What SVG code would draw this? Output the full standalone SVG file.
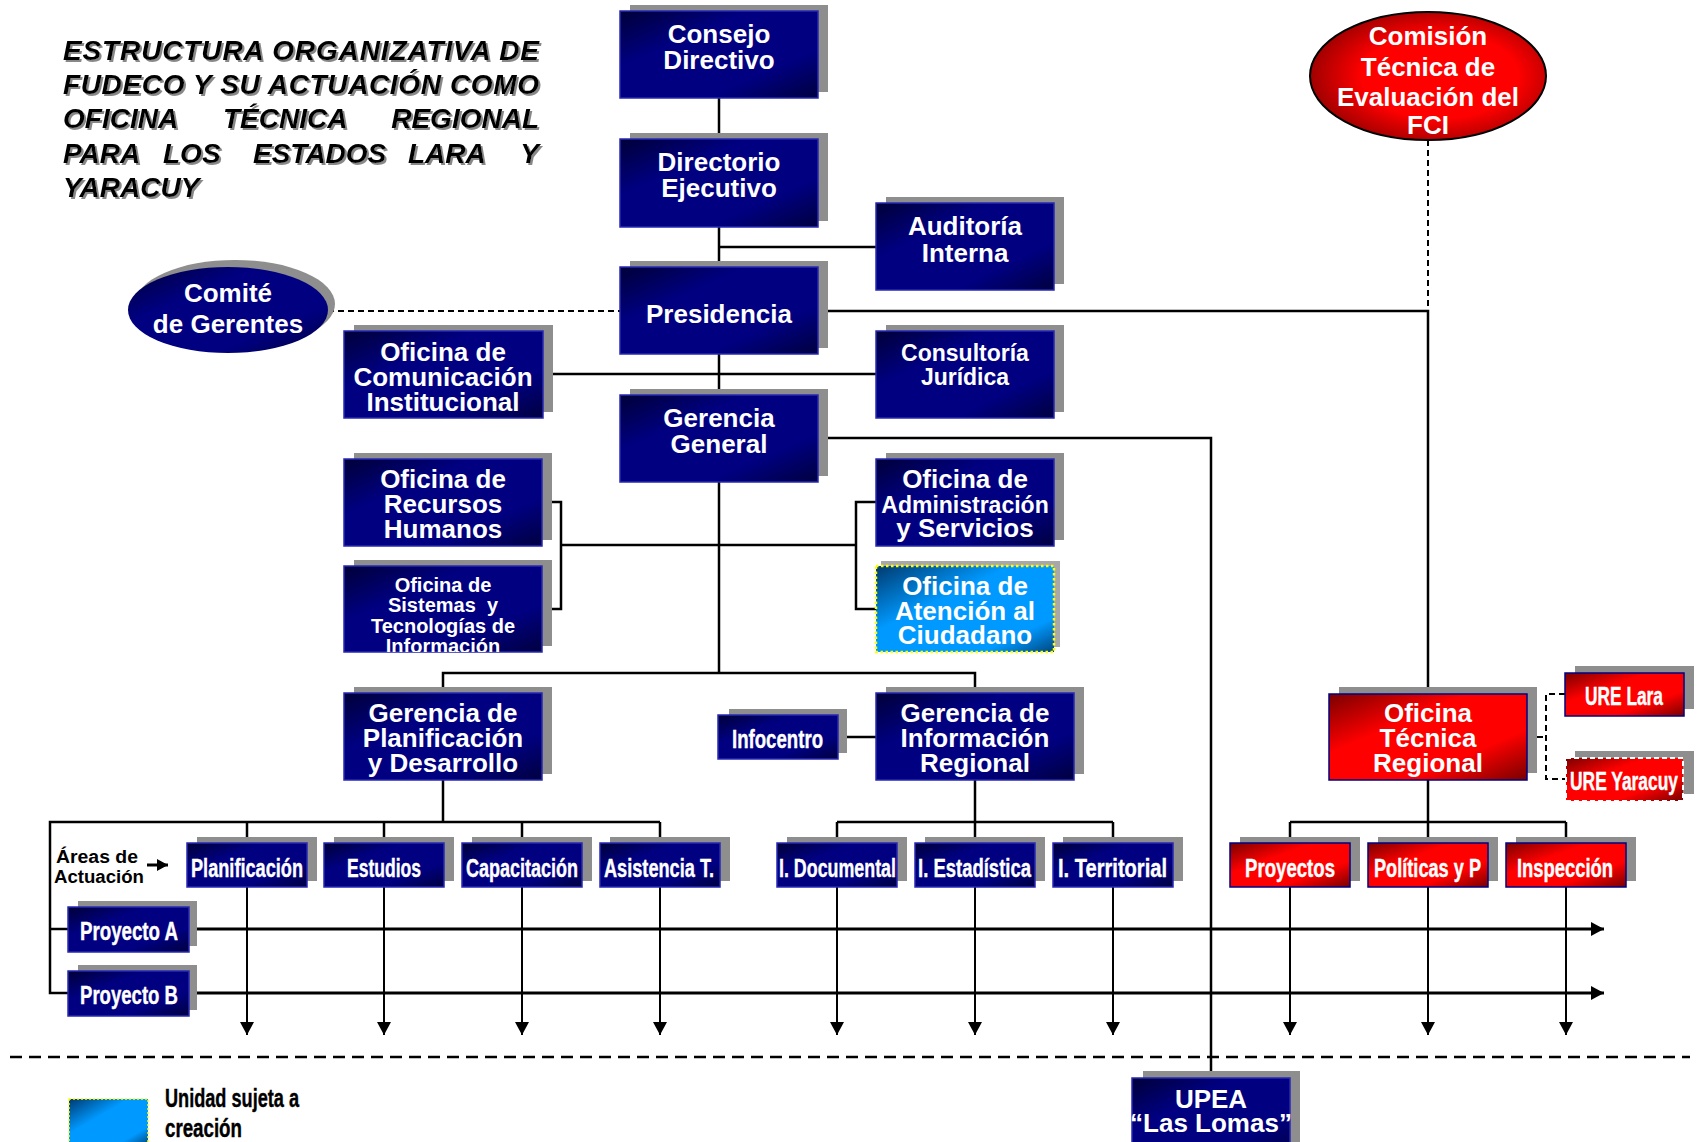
<svg xmlns="http://www.w3.org/2000/svg" width="1704" height="1142" viewBox="0 0 1704 1142">
<defs>
<linearGradient id="gNavy" x1="0" y1="0" x2="1" y2="1">
<stop offset="0" stop-color="#000038"/><stop offset="0.32" stop-color="#000080"/><stop offset="0.72" stop-color="#000080"/><stop offset="1" stop-color="#000040"/>
</linearGradient>
<linearGradient id="gRed" x1="0" y1="0" x2="1" y2="1">
<stop offset="0" stop-color="#7a0000"/><stop offset="0.35" stop-color="#ff0000"/><stop offset="0.7" stop-color="#ff0000"/><stop offset="1" stop-color="#780000"/>
</linearGradient>
<linearGradient id="gBlue" x1="0" y1="0" x2="1" y2="1">
<stop offset="0" stop-color="#003a6e"/><stop offset="0.38" stop-color="#0099ff"/><stop offset="0.8" stop-color="#0099ff"/><stop offset="1" stop-color="#00467f"/>
</linearGradient>
<radialGradient id="gRedE" cx="0.55" cy="0.5" r="0.6">
<stop offset="0" stop-color="#ff0000"/><stop offset="0.55" stop-color="#ff0000"/><stop offset="1" stop-color="#8a0000"/>
</radialGradient>
<filter id="tshadow" x="-5%" y="-20%" width="110%" height="140%">
<feDropShadow dx="2" dy="2" stdDeviation="0.6" flood-color="#888888" flood-opacity="1"/>
</filter>
<clipPath id="clipSis"><rect x="344" y="566" width="198" height="86"/></clipPath>
<marker id="arr" markerUnits="userSpaceOnUse" markerWidth="14" markerHeight="14" refX="13" refY="7" orient="auto" viewBox="0 0 14 14">
<path d="M0,0 L13,7 L0,14 Z" fill="#000"/>
</marker>
<marker id="arrSmall" markerUnits="userSpaceOnUse" markerWidth="12" markerHeight="12" refX="11" refY="6" orient="auto" viewBox="0 0 12 12">
<path d="M0,0 L11,6 L0,12 Z" fill="#000"/>
</marker>
</defs>
<style>
.sh{fill:#8e8e8e}
.nv{fill:url(#gNavy);stroke:#2828b4;stroke-width:1.5}
.rd{fill:url(#gRed);stroke:#000080;stroke-width:1.5}
.t{font-family:"Liberation Sans",Arial,sans-serif;font-weight:bold;fill:#fff;text-anchor:middle}
.t26{font-size:26px}
.t23{font-size:23px}
.t21{font-size:20px}
.c{font-family:"Liberation Sans",Arial,sans-serif;font-weight:bold;fill:#fff;font-size:25px;text-anchor:start;stroke:#fff;stroke-width:0.4}
.lg{font-family:"Liberation Sans",Arial,sans-serif;font-weight:bold;fill:#000;font-size:25px;stroke:#000;stroke-width:0.4}
.ln{stroke:#000;stroke-width:2.5;fill:none}
.ar{stroke:#000;stroke-width:2;fill:none}
.thick{stroke:#000;stroke-width:3;fill:none}
.dash{stroke:#000;stroke-width:2;fill:none;stroke-dasharray:6 4}
</style>
<rect x="0" y="0" width="1704" height="1142" fill="#fff"/>

<g id="title" font-family="'Liberation Sans',Arial,sans-serif" font-weight="bold" font-style="italic" font-size="28" fill="#000" filter="url(#tshadow)">
<text x="63" y="60" textLength="476" lengthAdjust="spacing">ESTRUCTURA ORGANIZATIVA DE</text>
<text x="63" y="94" textLength="476" lengthAdjust="spacing">FUDECO Y SU ACTUACIÓN COMO</text>
<text x="63" y="128">OFICINA</text>
<text x="223" y="128">TÉCNICA</text>
<text x="539" y="128" text-anchor="end">REGIONAL</text>
<text x="63" y="163">PARA</text>
<text x="163" y="163">LOS</text>
<text x="253" y="163">ESTADOS</text>
<text x="408" y="163">LARA</text>
<text x="539" y="163" text-anchor="end">Y</text>
<text x="63" y="197">YARACUY</text>
</g>

<g id="connectors">
<line class="ln" x1="719" y1="98" x2="719" y2="139"/>
<line class="ln" x1="719" y1="227" x2="719" y2="267"/>
<line class="ln" x1="719" y1="354" x2="719" y2="395"/>
<line class="ln" x1="719" y1="482" x2="719" y2="673"/>
<line class="ln" x1="719" y1="247" x2="876" y2="247"/>
<line class="ln" x1="543" y1="374" x2="876" y2="374"/>
<line class="dash" x1="328" y1="311" x2="620" y2="311" stroke-width="2.2"/>
<polyline class="ln" points="818,311 1428,311 1428,694"/>
<line class="dash" x1="1428" y1="140" x2="1428" y2="311"/>
<polyline class="ln" points="818,438 1211,438 1211,1078"/>
<polyline class="ln" points="542,502 561,502 561,609 542,609"/>
<line class="ln" x1="561" y1="545" x2="856" y2="545"/>
<polyline class="ln" points="876,502 856,502 856,609 876,609"/>
<polyline class="ln" points="443,693 443,673 975,673 975,693"/>
<line class="ln" x1="838" y1="737" x2="876" y2="737"/>
<line class="ln" x1="443" y1="780" x2="443" y2="822"/>
<polyline class="ln" points="68,993 50,993 50,822 660,822"/>
<line class="ln" x1="50" y1="929" x2="68" y2="929"/>
<line class="ln" x1="247" y1="822" x2="247" y2="843"/>
<line class="ln" x1="384" y1="822" x2="384" y2="843"/>
<line class="ln" x1="522" y1="822" x2="522" y2="843"/>
<line class="ln" x1="660" y1="822" x2="660" y2="843"/>
<line class="ln" x1="975" y1="780" x2="975" y2="843"/>
<line class="ln" x1="837" y1="822" x2="1113" y2="822"/>
<line class="ln" x1="837" y1="822" x2="837" y2="843"/>
<line class="ln" x1="1113" y1="822" x2="1113" y2="843"/>
<line class="ln" x1="1428" y1="780" x2="1428" y2="843"/>
<line class="ln" x1="1290" y1="822" x2="1566" y2="822"/>
<line class="ln" x1="1290" y1="822" x2="1290" y2="843"/>
<line class="ln" x1="1566" y1="822" x2="1566" y2="843"/>
<polyline class="dash" points="1527,737 1546,737"/>
<polyline class="dash" points="1565,694 1546,694 1546,779 1566,779"/>
<line class="thick" x1="189" y1="929" x2="1604" y2="929" marker-end="url(#arr)"/>
<line class="thick" x1="189" y1="993" x2="1604" y2="993" marker-end="url(#arr)"/>
<line class="ar" x1="247" y1="887" x2="247" y2="1035" marker-end="url(#arr)"/>
<line class="ar" x1="384" y1="887" x2="384" y2="1035" marker-end="url(#arr)"/>
<line class="ar" x1="522" y1="887" x2="522" y2="1035" marker-end="url(#arr)"/>
<line class="ar" x1="660" y1="887" x2="660" y2="1035" marker-end="url(#arr)"/>
<line class="ar" x1="837" y1="887" x2="837" y2="1035" marker-end="url(#arr)"/>
<line class="ar" x1="975" y1="887" x2="975" y2="1035" marker-end="url(#arr)"/>
<line class="ar" x1="1113" y1="887" x2="1113" y2="1035" marker-end="url(#arr)"/>
<line class="ar" x1="1290" y1="887" x2="1290" y2="1035" marker-end="url(#arr)"/>
<line class="ar" x1="1428" y1="887" x2="1428" y2="1035" marker-end="url(#arr)"/>
<line class="ar" x1="1566" y1="887" x2="1566" y2="1035" marker-end="url(#arr)"/>
<line x1="147" y1="865" x2="168" y2="865" stroke="#000" stroke-width="3" marker-end="url(#arrSmall)"/>
<line x1="10" y1="1057" x2="1690" y2="1057" stroke="#000" stroke-width="2.5" stroke-dasharray="12 7"/>
</g>

<g id="n-consejo"><rect class="sh" x="630" y="5" width="198" height="87"/><rect class="nv" x="620" y="11" width="198" height="87"/>
<text class="t t26"><tspan x="719" y="43">Consejo</tspan><tspan x="719" y="69">Directivo</tspan></text></g>

<g id="n-directorio"><rect class="sh" x="630" y="133" width="198" height="88"/><rect class="nv" x="620" y="139" width="198" height="88"/>
<text class="t t26"><tspan x="719" y="171">Directorio</tspan><tspan x="719" y="197">Ejecutivo</tspan></text></g>

<g id="n-auditoria"><rect class="sh" x="886" y="197" width="178" height="87"/><rect class="nv" x="876" y="203" width="178" height="87"/>
<text class="t t26"><tspan x="965" y="235">Auditoría</tspan><tspan x="965" y="262">Interna</tspan></text></g>

<g id="n-comite"><ellipse cx="235" cy="304" rx="100" ry="44" class="sh"/><ellipse cx="228" cy="310" rx="100" ry="43" fill="url(#gNavy)"/>
<text class="t t26"><tspan x="228" y="302">Comité</tspan><tspan x="228" y="333">de Gerentes</tspan></text></g>

<g id="n-presidencia"><rect class="sh" x="630" y="261" width="198" height="87"/><rect class="nv" x="620" y="267" width="198" height="87"/>
<text class="t t26" x="719" y="323">Presidencia</text></g>

<g id="n-comision"><ellipse cx="1428" cy="76" rx="118" ry="64" fill="url(#gRedE)" stroke="#000" stroke-width="2"/>
<text class="t t26"><tspan x="1428" y="45">Comisión</tspan><tspan x="1428" y="76">Técnica de</tspan><tspan x="1428" y="106">Evaluación del</tspan><tspan x="1428" y="134">FCI</tspan></text></g>

<g id="n-comunicacion"><rect class="sh" x="354" y="325" width="199" height="87"/><rect class="nv" x="344" y="331" width="199" height="87"/>
<text class="t t26"><tspan x="443" y="361">Oficina de</tspan><tspan x="443" y="386">Comunicación</tspan><tspan x="443" y="411">Institucional</tspan></text></g>

<g id="n-consultoria"><rect class="sh" x="886" y="325" width="178" height="87"/><rect class="nv" x="876" y="331" width="178" height="87"/>
<text class="t t23"><tspan x="965" y="361">Consultoría</tspan><tspan x="965" y="385">Jurídica</tspan></text></g>

<g id="n-gerencia"><rect class="sh" x="630" y="389" width="198" height="87"/><rect class="nv" x="620" y="395" width="198" height="87"/>
<text class="t t26"><tspan x="719" y="427">Gerencia</tspan><tspan x="719" y="453">General</tspan></text></g>

<g id="n-rrhh"><rect class="sh" x="354" y="453" width="198" height="87"/><rect class="nv" x="344" y="459" width="198" height="87"/>
<text class="t t26"><tspan x="443" y="488">Oficina de</tspan><tspan x="443" y="513">Recursos</tspan><tspan x="443" y="538">Humanos</tspan></text></g>

<g id="n-sistemas"><rect class="sh" x="354" y="560" width="198" height="86"/><rect class="nv" x="344" y="566" width="198" height="86"/>
<text class="t t21" clip-path="url(#clipSis)" xml:space="preserve"><tspan x="443" y="592">Oficina de</tspan><tspan x="443" y="612">Sistemas  y</tspan><tspan x="443" y="633">Tecnologías de</tspan><tspan x="443" y="653">Información</tspan></text></g>

<g id="n-administracion"><rect class="sh" x="886" y="453" width="178" height="87"/><rect class="nv" x="876" y="459" width="178" height="87"/>
<text class="t t26"><tspan x="965" y="488">Oficina de</tspan><tspan x="965" y="513" font-size="23">Administración</tspan><tspan x="965" y="537">y Servicios</tspan></text></g>

<g id="n-atencion"><rect x="881" y="561" width="179" height="86" fill="#a8a8a8"/><rect x="876" y="566" width="178" height="86" fill="url(#gBlue)" stroke="#ffff00" stroke-width="2.5" stroke-dasharray="2.5 2.5"/>
<text class="t t26"><tspan x="965" y="595">Oficina de</tspan><tspan x="965" y="620">Atención al</tspan><tspan x="965" y="644">Ciudadano</tspan></text></g>

<g id="n-gplanificacion"><rect class="sh" x="354" y="687" width="198" height="87"/><rect class="nv" x="344" y="693" width="198" height="87"/>
<text class="t t26"><tspan x="443" y="722">Gerencia de</tspan><tspan x="443" y="747">Planificación</tspan><tspan x="443" y="772">y Desarrollo</tspan></text></g>

<g id="n-infocentro"><rect class="sh" x="729" y="709" width="118" height="44"/><rect class="nv" x="718" y="715" width="120" height="44"/>
<text class="c" x="732" y="748" textLength="91" lengthAdjust="spacingAndGlyphs">Infocentro</text></g>

<g id="n-ginformacion"><rect class="sh" x="886" y="687" width="198" height="87"/><rect class="nv" x="876" y="693" width="198" height="87"/>
<text class="t t26"><tspan x="975" y="722">Gerencia de</tspan><tspan x="975" y="747">Información</tspan><tspan x="975" y="772">Regional</tspan></text></g>

<g id="n-otr"><rect class="sh" x="1339" y="687" width="198" height="86"/><rect class="rd" x="1329" y="694" width="198" height="86"/>
<text class="t t26"><tspan x="1428" y="722">Oficina</tspan><tspan x="1428" y="747">Técnica</tspan><tspan x="1428" y="772">Regional</tspan></text></g>

<g id="n-urelara"><rect class="sh" x="1575" y="666" width="119" height="43"/><rect class="rd" x="1565" y="673" width="119" height="43"/>
<text class="c" x="1585" y="705" textLength="78" lengthAdjust="spacingAndGlyphs">URE Lara</text></g>

<g id="n-ureyaracuy"><rect class="sh" x="1575" y="751" width="119" height="43"/><rect x="1566" y="758" width="117" height="43" fill="url(#gRed)" stroke="#fff" stroke-width="2" stroke-dasharray="5 3"/>
<text class="c" x="1570" y="790" textLength="108" lengthAdjust="spacingAndGlyphs">URE Yaracuy</text></g>

<g id="n-planificacion"><rect class="sh" x="197" y="837" width="120" height="44"/><rect class="nv" x="187" y="843" width="120" height="44"/>
<text class="c" x="191" y="877" textLength="112" lengthAdjust="spacingAndGlyphs">Planificación</text></g>
<g id="n-estudios"><rect class="sh" x="334" y="837" width="120" height="44"/><rect class="nv" x="324" y="843" width="120" height="44"/>
<text class="c" x="347" y="877" textLength="74" lengthAdjust="spacingAndGlyphs">Estudios</text></g>
<g id="n-capacitacion"><rect class="sh" x="472" y="837" width="120" height="44"/><rect class="nv" x="462" y="843" width="120" height="44"/>
<text class="c" x="466" y="877" textLength="112" lengthAdjust="spacingAndGlyphs">Capacitación</text></g>
<g id="n-asistencia"><rect class="sh" x="610" y="837" width="120" height="44"/><rect class="nv" x="600" y="843" width="120" height="44"/>
<text class="c" x="604" y="877" textLength="110" lengthAdjust="spacingAndGlyphs">Asistencia T.</text></g>

<g id="n-idocumental"><rect class="sh" x="787" y="837" width="120" height="44"/><rect class="nv" x="777" y="843" width="120" height="44"/>
<text class="c" x="779" y="877" textLength="117" lengthAdjust="spacingAndGlyphs">I. Documental</text></g>
<g id="n-iestadistica"><rect class="sh" x="925" y="837" width="120" height="44"/><rect class="nv" x="915" y="843" width="120" height="44"/>
<text class="c" x="918" y="877" textLength="113" lengthAdjust="spacingAndGlyphs">I. Estadística</text></g>
<g id="n-iterritorial"><rect class="sh" x="1063" y="837" width="120" height="44"/><rect class="nv" x="1053" y="843" width="120" height="44"/>
<text class="c" x="1058" y="877" textLength="109" lengthAdjust="spacingAndGlyphs">I. Territorial</text></g>

<g id="n-proyectos"><rect class="sh" x="1240" y="837" width="120" height="44"/><rect class="rd" x="1230" y="843" width="120" height="44"/>
<text class="c" x="1245" y="877" textLength="90" lengthAdjust="spacingAndGlyphs">Proyectos</text></g>
<g id="n-politicas"><rect class="sh" x="1378" y="837" width="120" height="44"/><rect class="rd" x="1368" y="843" width="120" height="44"/>
<text class="c" x="1374" y="877" textLength="107" lengthAdjust="spacingAndGlyphs">Políticas y P</text></g>
<g id="n-inspeccion"><rect class="sh" x="1516" y="837" width="120" height="44"/><rect class="rd" x="1506" y="843" width="120" height="44"/>
<text class="c" x="1517" y="877" textLength="96" lengthAdjust="spacingAndGlyphs">Inspección</text></g>

<g id="n-areas">
<text font-family="'Liberation Sans',Arial,sans-serif" font-weight="bold" font-size="18" fill="#000"><tspan x="56" y="863" textLength="82" lengthAdjust="spacingAndGlyphs">Áreas de</tspan><tspan x="54" y="883" textLength="90" lengthAdjust="spacingAndGlyphs">Actuación</tspan></text>
</g>

<g id="n-proyectoA"><rect class="sh" x="78" y="901" width="119" height="45"/><rect class="nv" x="68" y="907" width="121" height="45"/>
<text class="c" x="80" y="940" textLength="98" lengthAdjust="spacingAndGlyphs">Proyecto A</text></g>
<g id="n-proyectoB"><rect class="sh" x="78" y="965" width="119" height="45"/><rect class="nv" x="68" y="971" width="121" height="45"/>
<text class="c" x="80" y="1004" textLength="98" lengthAdjust="spacingAndGlyphs">Proyecto B</text></g>

<g id="n-upea"><rect class="sh" x="1143" y="1071" width="157" height="80"/><rect class="nv" x="1132" y="1078" width="158" height="80"/>
<text class="t t26"><tspan x="1211" y="1108">UPEA</tspan><tspan x="1211" y="1132">“Las Lomas”</tspan></text></g>

<g id="legend"><rect x="69" y="1099" width="79" height="46" fill="url(#gBlue)" stroke="#ffff00" stroke-width="1.5" stroke-dasharray="2 2"/>
<text class="lg"><tspan x="165" y="1107" textLength="134" lengthAdjust="spacingAndGlyphs">Unidad sujeta a</tspan><tspan x="165" y="1137" textLength="77" lengthAdjust="spacingAndGlyphs">creación</tspan></text></g>
</svg>
